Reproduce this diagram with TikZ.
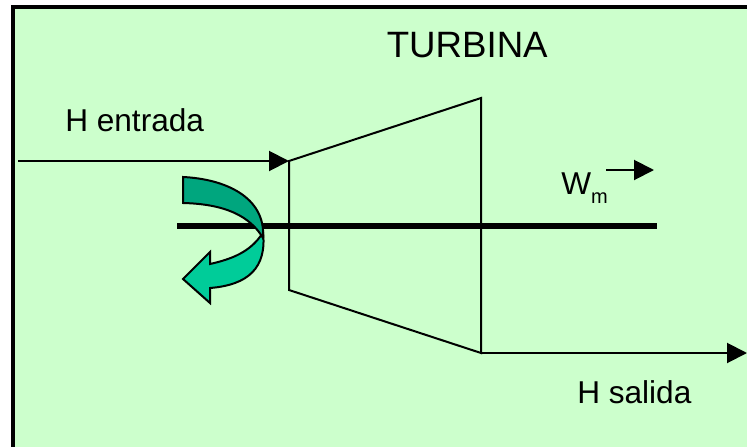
\documentclass[tikz,border=0pt]{standalone}
\usepackage{fontspec}
\setmainfont{Liberation Sans}
\usetikzlibrary{arrows.meta}
\definecolor{panel}{HTML}{CCFFCC}
\definecolor{bandDark}{HTML}{00A67E}
\definecolor{bandLight}{HTML}{00CC99}
\tikzset{
  flow/.style={line width=1.5pt,-{Triangle[length=15pt,width=15pt]}},
  wall/.style={line width=1.5pt,line join=miter},
  shaft/.style={line width=4.5pt},
  band/.style={draw=black,line width=1.5pt,line join=miter},
  lbl/.style={inner sep=0pt,text=black,font=\fontsize{23.7}{28}\selectfont,anchor=base west},
  bigl/.style={lbl,font=\fontsize{27.5}{32}\selectfont},
}
\begin{document}
\begin{tikzpicture}[x=0.75pt,y=-0.75pt]
\useasboundingbox (0,0) rectangle (747,447);
\fill[white] (0,0) rectangle (747,447);
\fill[panel] (13,7) rectangle (747,447);
\fill[black] (11,5) rectangle (747,9);
\fill[black] (11,5) rectangle (15,447);
% turbine corners
\coordinate (inT) at (289,161);
\coordinate (outT) at (481,98);
\coordinate (outB) at (481,353);
\coordinate (inB) at (289,290);
\coordinate (srcIn) at (18,161);
\coordinate (snkOut) at (747,353);
\coordinate (shL) at (177,226);
\coordinate (shR) at (657,226);
\coordinate (wmA) at (606,170);
\coordinate (wmB) at (654,170);
\draw[wall] (inT) -- (outT) -- (outB) -- (inB) -- cycle;
\draw[shaft] (shL) -- (shR);
\draw[flow] (srcIn) -- (inT);
\draw[flow] (outB) -- (snkOut);
\draw[flow] (wmA) -- (wmB);
% curved arrow
\draw[band,fill=bandLight] (262,234) .. controls (250,252) and (232,259) .. (210,264)
  -- (210,252) -- (183,279) -- (210,303) -- (210,288)
  .. controls (248,285) and (267,268) .. (263,232) -- cycle;
\draw[band,fill=bandDark] (183,177) .. controls (225,179) and (266,197) .. (263,238)
  .. controls (250,216) and (225,204) .. (183,203) -- cycle;
\node[bigl] (title) at (386.5,57) {TURBINA};
\node[lbl] (hin) at (65,131) {H entrada};
\node[lbl] (hout) at (577,403) {H salida};
\node[lbl] (wm) at (561,194) {W\raisebox{-6.75pt}{\fontsize{15}{18}\selectfont m}};
\end{tikzpicture}
\end{document}
